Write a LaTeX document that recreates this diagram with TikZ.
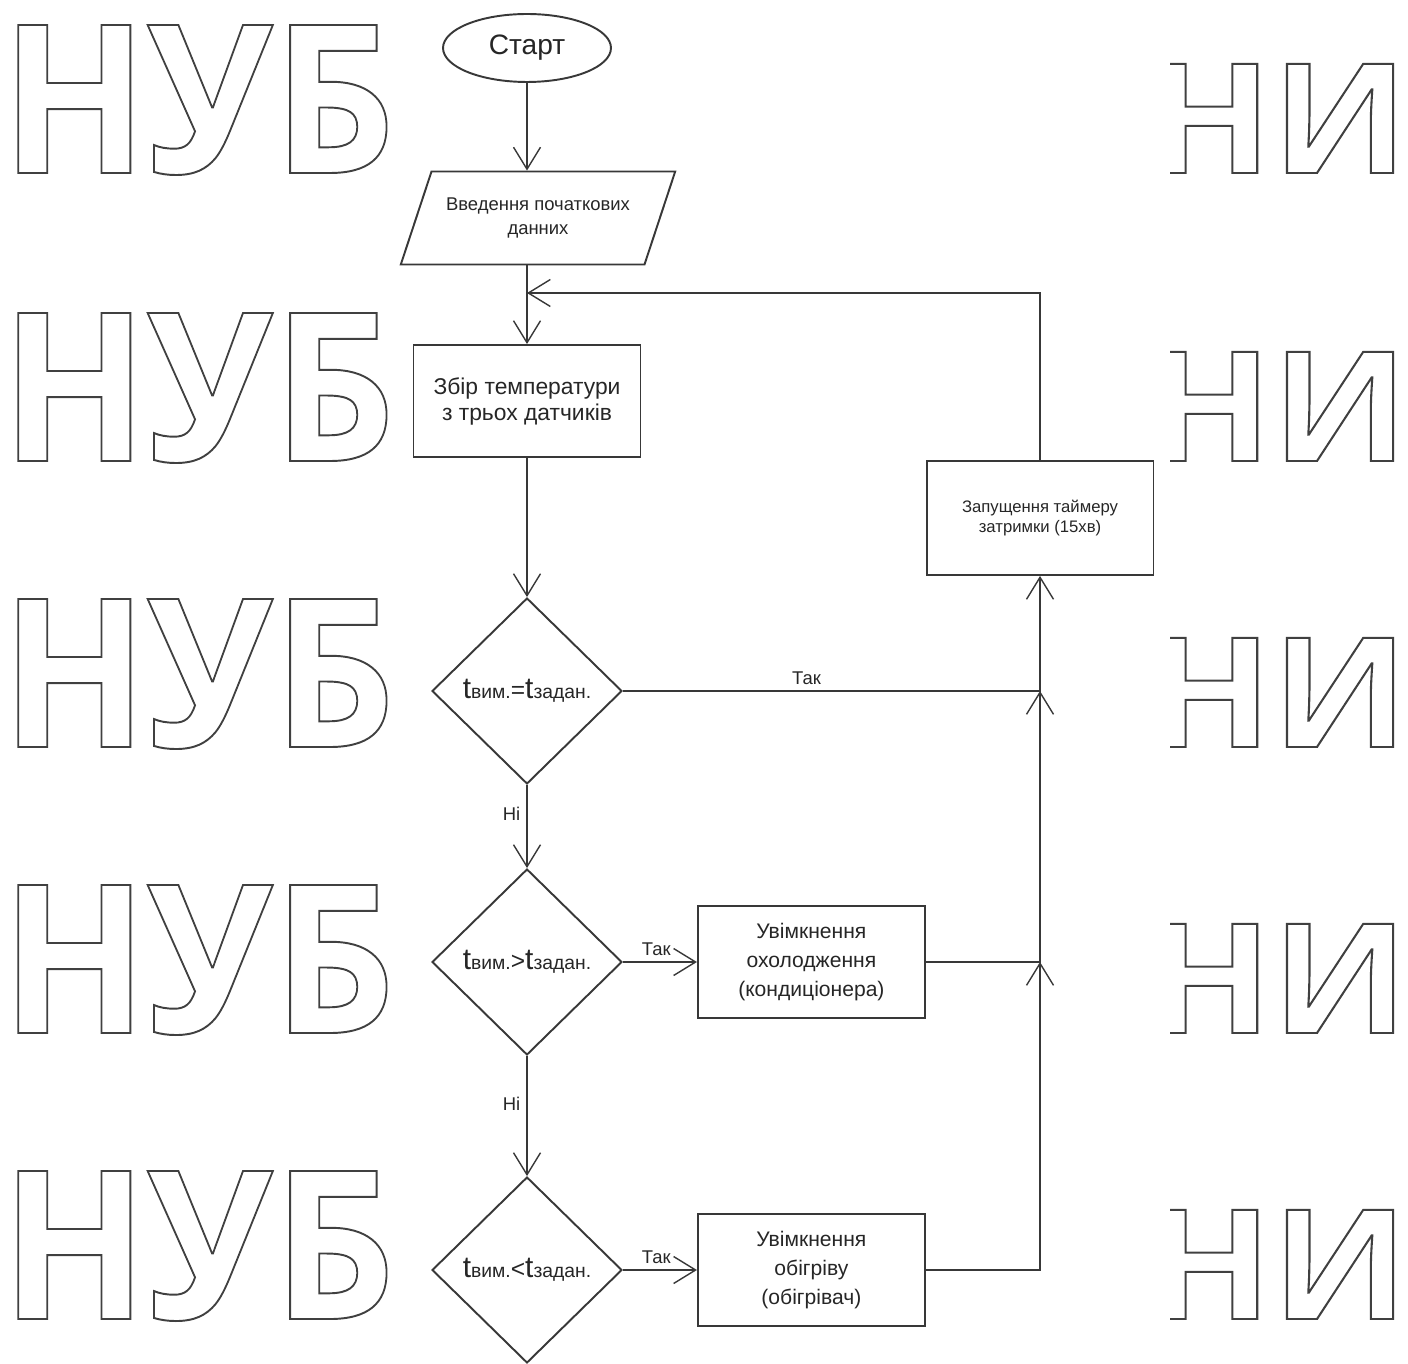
\documentclass[tikz,border=0pt]{standalone}
\usepackage{fontspec}
\setmainfont{Liberation Sans}
\newfontfamily\wmfont{Open Sans}
\usetikzlibrary{positioning,arrows.meta,shapes.geometric}
\newcommand{\tsub}[1]{{\fontsize{17}{17}\selectfont t}{\fontsize{11}{11}\selectfont #1}}
\newcommand{\hollow}[1]{\special{pdf:literal direct 1 Tr 1.1 w}#1\special{pdf:literal direct 0 Tr}}

\begin{document}
\begin{tikzpicture}[
  x=0.02cm, y=-0.02cm,
  line width=1.1pt, color=black!78,
  font=\fontsize{12}{16.5}\selectfont,
  box/.style={draw, rectangle, align=center, text=black!85, minimum width=4.54cm, minimum height=2.24cm, inner sep=2pt},
  term/.style={draw, ellipse, text=black!85, minimum width=3.36cm, minimum height=1.36cm, inner sep=0pt, font=\fontsize{16}{16}\selectfont},
  io/.style={draw, trapezium, trapezium left angle=62, trapezium right angle=118, trapezium stretches=true,
    minimum width=5.5cm, minimum height=1.86cm, align=center, text=black!85, font=\fontsize{10.5}{14.2}\selectfont},
  decide/.style={draw, diamond, minimum width=3.8cm, minimum height=3.72cm, inner sep=0pt, text=black!85},
  lbl/.style={text=black!85, font=\fontsize{10.5}{10.5}\selectfont},
  arr/.style={-{Straight Barb[length=4.4mm, width=5.4mm, line width=0.8pt]}},
  wm/.style={font=\wmfont\bfseries\fontsize{118}{118}\selectfont, text=black!75, inner sep=0pt, anchor=base west},
  wmr/.style={font=\wmfont\bfseries\fontsize{87}{87}\selectfont, text=black!75, inner sep=0pt, anchor=base east}]
\useasboundingbox (0,0) rectangle (1408,1364);

% watermark behind the chart
\foreach \yy in {173,461,747,1033,1319}
  \node[wm] (nub\yy) at (0,\yy) {\hollow{\scalebox{0.925}[1]{НУБ}}};
\begin{scope}
  \clip (1170,0) rectangle (1408,1364);
  \foreach \yy in {173,461,747,1033,1319}
    \node[wmr] (ni\yy) at (1409,\yy) {\hollow{\scalebox{1.08}[1]{НИ}}};
\end{scope}

% chart
\node[term] (start) at (527,48) {Старт};
\node[io] (data) at (538,218) {Введення початкових\\данних};
\node[box, font=\fontsize{13}{14.8}\selectfont] (collect) at (527,401) {Збір температури\\з трьох датчиків};
\node[decide] (eq) at (527,691) {\tsub{вим.}{\fontsize{14}{14}\selectfont =}\tsub{задан.}};
\node[decide] (gt) at (527,962) {\tsub{вим.}{\fontsize{14}{14}\selectfont >}\tsub{задан.}};
\node[decide] (lt) at (527,1270) {\tsub{вим.}{\fontsize{14}{14}\selectfont <}\tsub{задан.}};
\node[box, right=1.48cm of gt] (cool) {Увімкнення\\охолодження\\(кондиціонера)};
\node[box, right=1.48cm of lt] (heat) {Увімкнення\\обігріву\\(обігрівач)};
\node[box, minimum height=2.28cm, font=\fontsize{9.5}{11.4}\selectfont] (timer) at (1040,518) {Запущення таймеру\\затримки (15хв)};
\coordinate (merge) at (527,293);
\coordinate (j1) at (eq.east -| timer.south);
\coordinate (j2) at (cool.east -| timer.south);

\draw[arr] (start) -- (start |- data.north);
\draw[arr] (collect |- data.south) -- (collect);
\draw[arr] (collect) -- (eq);
\draw[arr] (eq) -- node[lbl, left, pos=0.35] {Ні} (gt);
\draw[arr] (gt) -- node[lbl, left, pos=0.4] {Ні} (lt);
\draw[arr] (gt) -- node[lbl, above, pos=0.45] {Так} (cool);
\draw[arr] (lt) -- node[lbl, above, pos=0.45] {Так} (heat);
\draw[arr] (eq) -| node[lbl, above, pos=0.22] {Так} (timer);
\draw[arr] (cool) -| (j1);
\draw[arr] (heat) -| (j2);
\draw[arr] (timer) |- (merge);
\end{tikzpicture}
\end{document}
